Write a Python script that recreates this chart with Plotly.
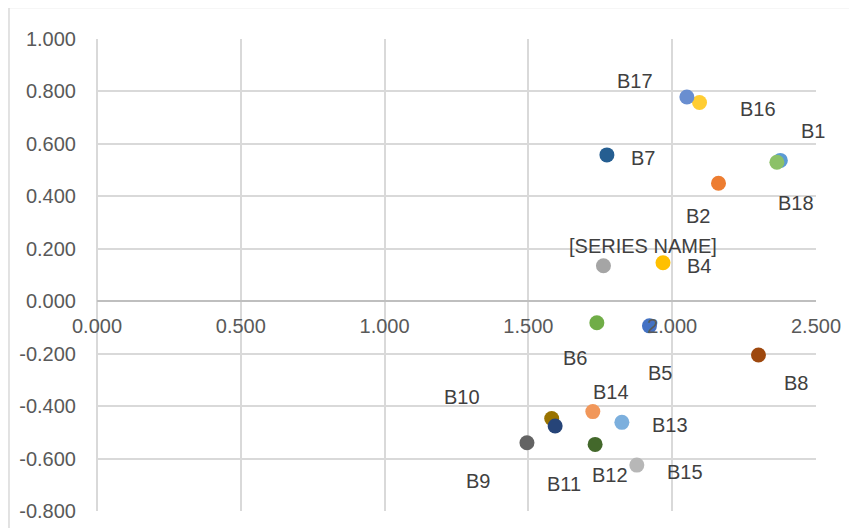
import plotly.graph_objects as go

names = ["B1", "B2", "[SERIES NAME]", "B4", "B5", "B6", "B7", "B8", "B9",
         "B10", "B11", "B12", "B13", "B14", "B15", "B16", "B17", "B18"]
x_vals = [2.376, 2.161, 1.761, 1.968, 1.921, 1.738, 1.773, 2.300, 1.495,
          1.581, 1.593, 1.732, 1.825, 1.724, 1.877, 2.095, 2.051, 2.364]
y_vals = [0.537, 0.450, 0.135, 0.147, -0.094, -0.082, 0.558, -0.205, -0.540,
          -0.447, -0.476, -0.546, -0.462, -0.421, -0.625, 0.758, 0.779, 0.530]
colors = ["#5B9BD5", "#ED7D31", "#A5A5A5", "#FFC000", "#4472C4", "#70AD47",
          "#255E91", "#9E480E", "#636363", "#997300", "#264478", "#43682B",
          "#7CAFDD", "#F1975A", "#B7B7B7", "#FFCD33", "#698ED0", "#8CC168"]
# label offsets in pixels (dx right, dy down)
label_dx = [33, -21, 40, 36, 11, -22, 36, 38, -49, -90, 9, 15, 48, 18, 48, 58, -52, 19]
label_dy = [-29, 33, -20, 3, 47, 35, 3, 28, 38, -21, 58, 31, 3, -20, 7, 7, -16, 41]

x_ticks = [0, 0.5, 1.0, 1.5, 2.0, 2.5]
x_ticktext = ["0.000", "0.500", "1.000", "1.500", "2.000", "2.500"]
y_ticks = [-0.8, -0.6, -0.4, -0.2, 0, 0.2, 0.4, 0.6, 0.8, 1.0]
y_ticktext = ["-0.800", "-0.600", "-0.400", "-0.200", "0.000", "0.200",
              "0.400", "0.600", "0.800", "1.000"]

FONT = "Liberation Sans"
fig = go.Figure()
for i, n in enumerate(names):
    fig.add_trace(go.Scatter(x=[x_vals[i]], y=[y_vals[i]], mode="markers", name=n,
                             marker=dict(size=15, color=colors[i], line=dict(width=0)),
                             showlegend=False, cliponaxis=False))
    fig.add_annotation(x=x_vals[i], y=y_vals[i], xref="x", yref="y", text=n,
                       showarrow=False, xshift=label_dx[i], yshift=-label_dy[i],
                       font=dict(family=FONT, size=20, color="#404040"))

# page body has an 8px margin, so the figure is offset by 8px
fig.update_layout(
    width=849, height=520,
    margin=dict(l=89, r=41, t=31, b=17),
    paper_bgcolor="white", plot_bgcolor="white",
    xaxis=dict(range=[0, 2.5], tickvals=x_ticks, ticktext=x_ticktext,
               showgrid=True, gridcolor="#D9D9D9", gridwidth=1.5,
               zeroline=True, zerolinecolor="#D9D9D9", zerolinewidth=1.5,
               anchor="free", position=0.8 / 1.8, showline=False,
               ticks="", ticklabelstandoff=11, automargin=False,
               tickfont=dict(family=FONT, size=20, color="#595959")),
    yaxis=dict(range=[-0.8, 1.0], tickvals=y_ticks, ticktext=y_ticktext,
               showgrid=True, gridcolor="#D9D9D9", gridwidth=1.5,
               zeroline=True, zerolinecolor="#BFBFBF", zerolinewidth=2,
               showline=False, ticks="", ticklabelstandoff=20, automargin=False,
               tickfont=dict(family=FONT, size=20, color="#595959")),
    shapes=[
        dict(type="line", xref="paper", yref="paper", x0=-0.1224, x1=1.2,
             y0=1.067, y1=1.067, line=dict(color="#D9D9D9", width=1.5)),
        dict(type="line", xref="paper", yref="paper", x0=-0.1224, x1=-0.1224,
             y0=1.067, y1=-0.2, line=dict(color="#D9D9D9", width=1.5)),
    ],
)
fig.write_html("out.html")
